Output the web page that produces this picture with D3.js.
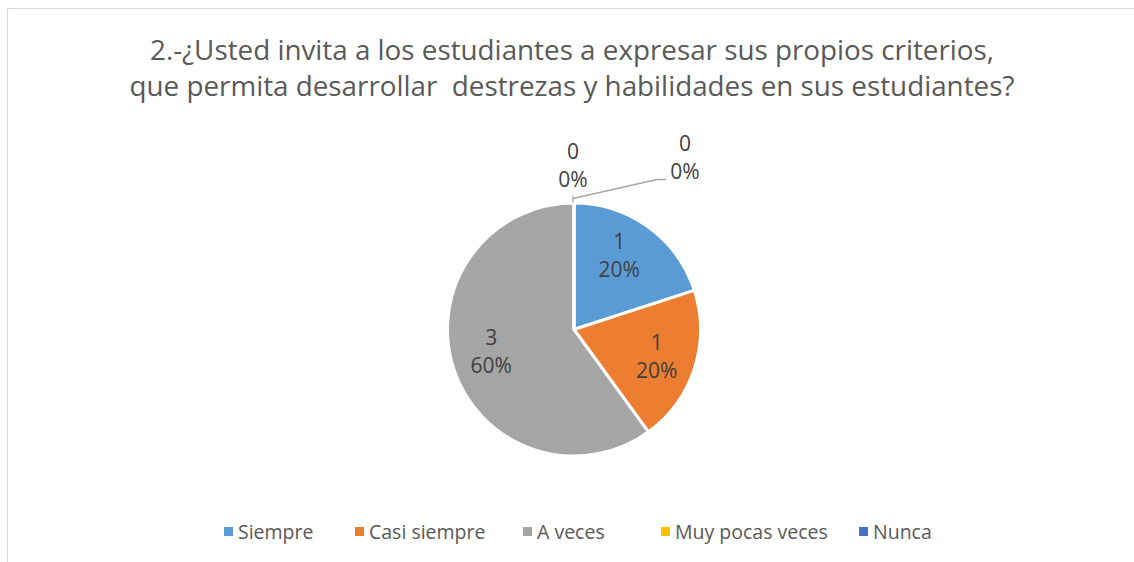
<!DOCTYPE html>
<html><head><meta charset="utf-8">
<script src="https://cdn.jsdelivr.net/npm/d3@7"></script>
<style>body{margin:0;background:#fff;} svg{display:block;} text{font-family:"Open Sans","Noto Sans",sans-serif;}</style>
</head><body>
<svg id="c" width="1134" height="562"></svg>
<script>
const categories = ["Siempre","Casi siempre","A veces","Muy pocas veces","Nunca"];
const values = [1,1,3,0,0];
const colors = ["#5B9BD5","#ED7D31","#A5A5A5","#FFC000","#4472C4"];
const titleLines = ["2.-¿Usted invita a los estudiantes a expresar sus propios criterios,","que permita desarrollar  destrezas y habilidades en sus estudiantes?"];

const W=1134,H=562;
const svg=d3.select("#c");
svg.append("rect").attr("x",7.5).attr("y",8.5).attr("width",W+10).attr("height",H+10)
  .attr("fill","#fff").attr("stroke","#D9D9D9").attr("stroke-width",1.2);

// title
const tg=svg.append("g");
titleLines.forEach((t,i)=>{
  tg.append("text").attr("x",572).attr("y",60+i*36).attr("text-anchor","middle")
    .attr("font-size",27.8).attr("fill","#595959").style("white-space","pre").text(t);
});

const cx=574, cy=329.5, R=126.5;
const total=d3.sum(values);
const pie=d3.pie().sort(null).value(d=>d)(values);
const arc=d3.arc().innerRadius(0).outerRadius(R);
const g=svg.append("g").attr("transform",`translate(${cx},${cy})`);
g.selectAll("path").data(pie).enter().append("path")
  .attr("d",arc).attr("fill",(d,i)=>colors[i]).attr("stroke","#fff").attr("stroke-width",3).attr("stroke-linejoin","round");

const labArc=d3.arc().innerRadius(87).outerRadius(87);
const fmt=d=>Math.round(d/total*100)+"%";
pie.forEach((d,i)=>{
  let x,y;
  if(d.value>0){ [x,y]=labArc.centroid(d); if(i===0){x-=6;y-=4;} if(i===2){y-=5;} }
  else if(i===3){ x=-1; y=-164; }
  else { x=111; y=-172; }
  const t=g.append("text").attr("text-anchor","middle").attr("font-size",21).attr("fill","#404040");
  t.append("tspan").attr("x",x).attr("y",y-14+7.5).text(d.value);
  t.append("tspan").attr("x",x).attr("y",y+14+7.5).text(fmt(d.value));
});
// leader line for last zero label
g.append("polyline").attr("points",[[-1,-131],[83,-150],[92,-150]].map(p=>p.join(",")).join(" "))
  .attr("fill","none").attr("stroke","#A6A6A6").attr("stroke-width",1.3);
g.append("line").attr("x1",-1).attr("x2",-1).attr("y1",-134).attr("y2",-127).attr("stroke","#A6A6A6").attr("stroke-width",1.3);

// legend (layout positions of each entry's text start)
const legendTextX=[238,369,537,675,873];
const lg=svg.append("g");
categories.forEach((c,i)=>{
  const lx=legendTextX[i];
  lg.append("rect").attr("x",lx-14).attr("y",527).attr("width",9).attr("height",9).attr("fill",colors[i]);
  lg.append("text").attr("x",lx).attr("y",538.5).attr("font-size",19.5).attr("fill","#595959").text(c);
});
</script>
</body></html>
